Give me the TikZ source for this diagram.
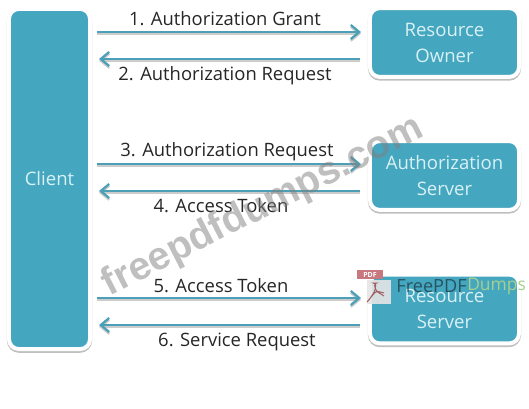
\documentclass[tikz,border=0pt]{standalone}
\usepackage{fontspec}
\setmainfont{Open Sans}
\newfontfamily\markfont{Liberation Sans}
\usetikzlibrary{arrows.meta}
\definecolor{boxteal}{HTML}{45A6C0}
\definecolor{boxtext}{HTML}{D8F1F5}
\definecolor{ptrteal}{HTML}{4BA0B8}
\definecolor{pdfred}{HTML}{C9777F}
\definecolor{dumpsgreen}{HTML}{A5D08F}

\begin{document}
\begin{tikzpicture}[
    x=.025cm, y=-.025cm,
    box/.style={draw=white, line width=2.8pt, fill=boxteal, rounded corners=7pt,
      preaction={draw=black!25, line width=2.9pt, transform canvas={yshift=-1.2pt}},
      text=boxtext, font=\fontsize{13.2}{18.5}\selectfont, align=center, inner sep=0pt},
    srv/.style={box, minimum width=3.725cm, minimum height=1.72cm},
    ptr/.style={-{Straight Barb[length=6pt,width=10pt,line width=1.6pt]}, line width=1.8pt, draw=ptrteal,
      preaction={draw=black!20, line width=1.4pt, transform canvas={yshift=-1.3pt}}},
    msg/.style={font=\fontsize{13.1}{16}\selectfont, text=black!85, inner sep=0pt},
  ]
    \useasboundingbox (0,0) rectangle (529,409);

    \node[box, minimum width=2.025cm, minimum height=8.5cm] (client) at (49.5,179) {Client};
    \node[srv] (owner) at (444.5,42.5) {Resource\\Owner};
    \node[srv] (authsrv) at (444.5,175.5) {Authorization\\Server};
    \node[srv] (ressrv) at (444.5,309) {Resource\\Server};

    \coordinate (c1) at (97,32);
    \coordinate (o1) at (361,32);
    \coordinate (c2) at (99,59);
    \coordinate (o2) at (360,59);
    \coordinate (c3) at (97,164);
    \coordinate (a3) at (361,164);
    \coordinate (c4) at (99,191);
    \coordinate (a4) at (360,191);
    \coordinate (c5) at (97,298);
    \coordinate (r5) at (361,298);
    \coordinate (c6) at (99,325);
    \coordinate (r6) at (360,325);

    \draw[ptr] (c1) -- (o1);
    \draw[ptr] (o2) -- (c2);
    \draw[ptr] (c3) -- (a3);
    \draw[ptr] (a4) -- (c4);
    \draw[ptr] (c5) -- (r5);
    \draw[ptr] (r6) -- (c6);

    \node[msg] (m1) at (225,19) {1. Authorization Grant};
    \node[msg] (m2) at (225,76) {2. Authorization Request};
    \node[msg] (m3) at (227,152) {3. Authorization Request};
    \node[msg] (m4) at (221,206) {4. Access Token};
    \node[msg] (m5) at (221,286) {5. Access Token};
    \node[msg] (m6) at (237,342) {6. Service Request};

    % watermark
    \node[font=\fontsize{28}{32}\selectfont\markfont\bfseries, text=black!50, opacity=.5, rotate=27, inner sep=0pt]
      (mark) at (263,207) {freepdfdumps.com};

    \node[fill=black!10, opacity=.9, minimum width=.6cm, minimum height=.6cm, inner sep=0pt] (logo) at (379,292) {};
    \node[fill=pdfred, text=white, font=\fontsize{5}{6}\selectfont\bfseries, minimum width=.64cm, minimum height=.22cm, inner sep=0pt]
      (pdftag) at (370,274.5) {PDF};
    \draw[pdfred!80!black, line width=.7pt, rounded corners=2pt]
      (384,296) -- (376,291) -- (374,283) -- (376,283) -- (375,291) -- (369,300) -- (368,301) -- (376,291) -- (384,293);
    \node[font=\fontsize{12.9}{15}\selectfont, text=black!60!ptrteal, opacity=.8, inner sep=0pt, anchor=east]
      (free) at (467,286) {FreePDF};
    \node[font=\fontsize{12.4}{15}\selectfont, text=dumpsgreen, inner sep=0pt, anchor=west]
      (dumps) at (467,286) {Dumps};
  \end{tikzpicture}
\end{document}
